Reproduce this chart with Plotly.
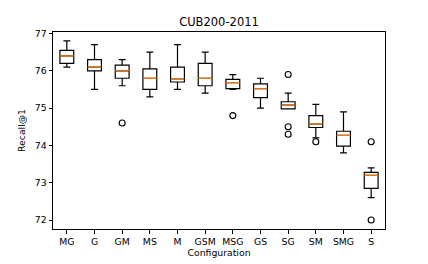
import plotly.graph_objects as go

configs = ["MG", "G", "GM", "MS", "M", "GSM", "MSG", "GS", "SG", "SM", "SMG", "S"]
upper_whisker = [76.8, 76.7, 76.3, 76.5, 76.7, 76.5, 75.9, 75.8, 75.4, 75.1, 74.9, 73.4]
q3_vals = [76.55, 76.3, 76.15, 76.05, 76.1, 76.2, 75.77, 75.65, 75.17, 74.8, 74.38, 73.28]
medians = [76.4, 76.1, 76.0, 75.8, 75.78, 75.8, 75.68, 75.52, 75.08, 74.57, 74.27, 73.2]
q1_vals = [76.2, 76.0, 75.8, 75.5, 75.7, 75.6, 75.52, 75.28, 74.98, 74.48, 73.98, 72.85]
lower_whisker = [76.1, 75.5, 75.6, 75.3, 75.5, 75.4, 75.5, 75.0, 74.98, 74.2, 73.8, 72.6]
outlier_cfg = ["GM", "MSG", "SG", "SG", "SG", "SM", "S", "S"]
outlier_vals = [74.6, 74.8, 75.9, 74.5, 74.3, 74.1, 74.1, 72.0]

pos = list(range(1, len(configs) + 1))
box_w = 0.5

fig = go.Figure()
fig.add_trace(go.Box(
    x=pos, q1=q1_vals, median=medians, q3=q3_vals,
    lowerfence=lower_whisker, upperfence=upper_whisker,
    width=box_w, whiskerwidth=0.5,
    line=dict(color="black", width=1.2), fillcolor="rgba(255,255,255,0)",
    boxpoints=False, showlegend=False, hoverinfo="skip",
))
# orange median lines
mx, my = [], []
for p, m in zip(pos, medians):
    mx += [p - box_w / 2, p + box_w / 2, None]
    my += [m, m, None]
fig.add_trace(go.Scatter(x=mx, y=my, mode="lines",
                         line=dict(color="#ff7f0e", width=1.2),
                         showlegend=False, hoverinfo="skip"))
# outliers
ox = [pos[configs.index(c)] for c in outlier_cfg]
fig.add_trace(go.Scatter(x=ox, y=outlier_vals, mode="markers",
                         marker=dict(symbol="circle-open", size=6, color="black",
                                     line=dict(width=1.1)),
                         showlegend=False, hoverinfo="skip"))

fig.update_layout(
    width=428, height=264,
    margin=dict(l=53, r=43, t=32, b=35, autoexpand=False),
    paper_bgcolor="white", plot_bgcolor="white",
    font=dict(family="DejaVu Sans", size=9, color="black"),
    title=dict(text="CUB200-2011", x=0.5, xref="paper", xanchor="center",
               y=1 - 22 / 264, yref="container", yanchor="middle",
               automargin=False,
               font=dict(size=11.5, color="black")),
    xaxis=dict(range=[0.5, 12.5], tickvals=pos, ticktext=configs,
               showgrid=False, zeroline=False, showline=True, mirror=True,
               linecolor="black", linewidth=1, ticks="outside", ticklen=3.5,
               tickcolor="black", tickfont=dict(size=9.3, color="black"),
               automargin=False,
               title=dict(text="Configuration", standoff=2,
                          font=dict(size=9.3, color="black"))),
    yaxis=dict(range=[71.76, 77.04], tickvals=[72, 73, 74, 75, 76, 77],
               showgrid=False, zeroline=False, showline=True, mirror=True,
               linecolor="black", linewidth=1, ticks="outside", ticklen=3.5,
               tickcolor="black", tickfont=dict(size=9.3, color="black"),
               automargin=False,
               title=dict(text="Recall@1", standoff=7,
                          font=dict(size=9.3, color="black"))),
)

fig.write_html("out.html",
               config={"displayModeBar": False},
               post_script="document.body.style.margin='0';document.body.style.overflow='hidden';")
